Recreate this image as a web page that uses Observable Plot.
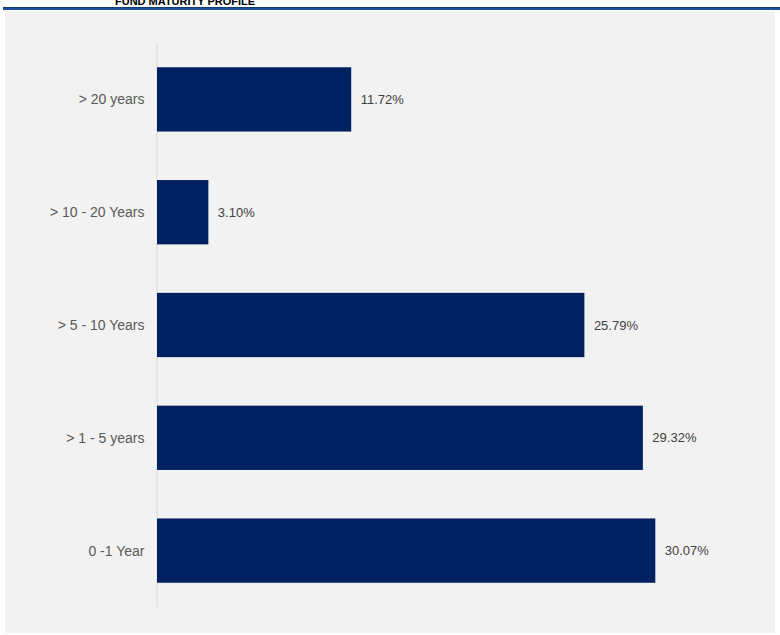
<!DOCTYPE html>
<html>
<head>
<meta charset="utf-8">
<script src="https://cdn.jsdelivr.net/npm/d3@7"></script>
<script src="https://cdn.jsdelivr.net/npm/@observablehq/plot@0.6"></script>
<style>
  html, body { margin: 0; padding: 0; background: #ffffff; overflow: hidden; }
  #wrap { position: relative; width: 780px; height: 635px; }
  #panel { position: absolute; left: 5px; top: 11px; width: 770px; height: 622px; background: #f2f2f2; }
  #rule { position: absolute; left: 3px; top: 7px; width: 777px; height: 3px; background: #1f4e9f; border-top: 1px solid #153a7a; box-sizing: border-box; }
  #title { position: absolute; left: 115px; top: -4px; font: bold 11px "Liberation Sans", Arial, sans-serif; line-height: 11px; color: #000; white-space: nowrap; }
  #chart { position: absolute; left: 0; top: 0; }
</style>
</head>
<body>
<div id="wrap">
  <div id="panel"></div>
  <div id="rule"></div>
  <div id="title">FUND MATURITY PROFILE</div>
  <div id="chart"></div>
</div>
<script>
const categories = ["> 20 years", "> 10 - 20 Years", "> 5 - 10 Years", "> 1 - 5 years", "0 -1 Year"];
const values = [11.72, 3.10, 25.79, 29.32, 30.07];
const valueLabels = ["11.72%", "3.10%", "25.79%", "29.32%", "30.07%"];

const data = categories.map((c, i) => ({cat: c, value: values[i], label: valueLabels[i]}));

const chart = Plot.plot({
  width: 780,
  height: 635,
  marginLeft: 157,
  marginRight: 43,
  marginTop: 43,
  marginBottom: 28,
  style: {background: "transparent", fontFamily: "'Liberation Sans', Arial, sans-serif"},
  x: {domain: [0, 35], axis: null},
  y: {domain: categories, paddingInner: 0.43, paddingOuter: 0.215, round: false, label: null, axis: null},
  marks: [
    Plot.ruleX([0], {stroke: "#d9d9d9", strokeWidth: 1, dx: -0.5}),
    Plot.barX(data, {x: "value", y: "cat", fill: "#002060"}),
    Plot.axisY({tickSize: 0, tickPadding: 13, fontSize: 14, fill: "#595959", label: null}),
    Plot.text(data, {x: "value", y: "cat", text: "label", dx: 9, textAnchor: "start", fill: "#404040", fontSize: 13})
  ]
});
document.getElementById("chart").appendChild(chart);
</script>
</body>
</html>
